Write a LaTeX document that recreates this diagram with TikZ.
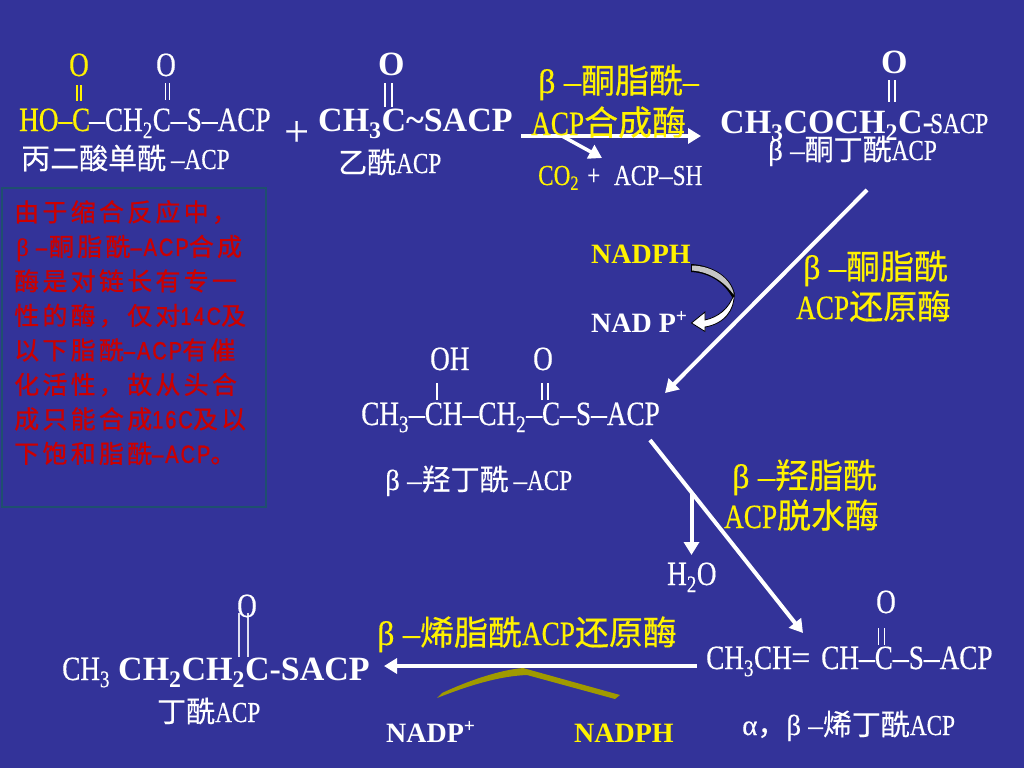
\documentclass[tikz,border=0pt]{standalone}
\usepackage{fontspec}
\usetikzlibrary{arrows.meta}
\setmainfont{Liberation Serif}
\newfontfamily\narrow[FakeStretch=0.8,FakeBold=0.4]{Liberation Serif}
\newfontfamily\wide[FakeBold=0.4]{Liberation Serif}
\newfontfamily\dashfont[FakeStretch=0.93,FakeBold=0.4]{Liberation Serif}
\newfontfamily\cjk[FakeBold=0.4]{Noto Sans CJK SC}
\newfontfamily\redzh[LetterSpace=13,FakeBold=0.8]{Noto Sans CJK SC}
\newfontfamily\redlat[FakeStretch=0.8,LetterSpace=8,FakeBold=1]{Liberation Sans}
\newcommand{\zh}[1]{{\cjk #1}}
\newcommand{\ra}[1]{{\redlat #1}}
\newcommand{\lk}{{\dashfont –}}
\newcommand{\bd}{{\wide β\hspace{.25em}–}}
\definecolor{slide}{HTML}{333399}
\definecolor{olive}{HTML}{A09A00}
\definecolor{boxline}{HTML}{1F4F6F}
\definecolor{redtext}{HTML}{CC0000}
\tikzset{
    chem/.style={anchor=base west, inner sep=0pt, text=white, font=\fontsize{34}{34}\narrow},
    chembold/.style={chem, font=\fontsize{34}{34}\bfseries\rmfamily},
    name label/.style={chem, font=\fontsize{29}{29}\narrow},
    cofactor/.style={chem, font=\fontsize{28}{28}\bfseries\rmfamily},
    enzyme/.style={chem, text=yellow, font=\fontsize{34}{34}\narrow},
    flow/.style={draw=white, line width=4pt, -{Triangle[width=15pt,length=13pt]}},
    bond/.style={white, line width=1.3pt}
}
\begin{document}
\begin{tikzpicture}[x=1pt, y=-1pt]
        \useasboundingbox (0,0) rectangle (1024,768);
        \fill[slide] (0,0) rectangle (1024,768);

        \coordinate (c1s) at (521,136);
        \coordinate (c1e) at (701,136);
        \coordinate (c1b) at (562,136);
        \coordinate (c1t) at (602,158);
        \coordinate (c2s) at (867,190);
        \coordinate (c2e) at (665,393);
        \coordinate (c3s) at (650,440);
        \coordinate (c3e) at (803,633);
        \coordinate (c3b) at (691.5,493);
        \coordinate (c3t) at (691.5,555);
        \coordinate (c4s) at (697,666);
        \coordinate (c4e) at (384,666);
        \draw[flow] (c1s) -- (c1e);
        \draw[flow, line width=3.5pt] (c1b) -- (c1t);
        \draw[flow] (c2s) -- (c2e);
        \draw[flow] (c3s) -- (c3e);
        \draw[flow] (c3b) -- (c3t);
        \draw[flow] (c4s) -- (c4e);

        \foreach \n/\xa/\ya/\yb/\d/\col in {
            a/79/85/101/2/yellow, b/167.5/83/100/2/white, c/388.5/83/107/3.5/white,
            d/892/80/102/3/white, e/545/383/400/3/white, f/881.5/628/645/3/white,
            g/243.5/613/657/4.5/white!85!slide} {
            \coordinate (\n top) at (\xa,\ya);
            \coordinate (\n bot) at (\xa,\yb);
            \draw[bond, draw=\col] ([xshift=-\d pt]\n top) -- ([xshift=-\d pt]\n bot);
            \draw[bond, draw=\col] ([xshift=\d pt]\n top) -- ([xshift=\d pt]\n bot);
        }
        \coordinate (htop) at (437,383);
        \coordinate (hbot) at (437,400);
        \draw[bond] (htop) -- (hbot);

        \node (oa) [chem, text=yellow] at (69,76) {O};
        \node (ob) [chem] at (156,76) {O};
        \node (malho) [chem, text=yellow] at (19,131) {HO–C};
        \node (malchain) [chem] at (89,131) {\lk CH\textsubscript{2}C\lk S\lk ACP};
        \node (malname) [name label] at (21,169) {\zh{丙二酸单酰}\,\lk ACP};
        \node (plus) [chem, font=\fontsize{44}{44}\wide] at (284,146) {+};
        \node (oc) [chembold] at (378,75) {O};
        \node (acetyl) [chembold] at (318,131) {CH\textsubscript{3}C\char`\~SACP};
        \node (acetylname) [name label] at (338,173) {\zh{乙酰}ACP};

        \node (synthase) [enzyme] at (538,93) {\bd\zh{酮脂酰}\lk};
        \node (synthaseb) [enzyme] at (531,135) {ACP\zh{合成酶}};
        \node (co) [name label, text=yellow] at (538,185) {CO\textsubscript{2}};
        \node (acpsh) [name label] at (587,185) {+\hspace{8pt} ACP\lk SH};

        \node (od) [chembold] at (881,73) {O};
        \node (keto) [chembold] at (720,133) {CH\textsubscript{3}COCH\textsubscript{2}C-};
        \node (ketotail) [name label] at (930,133) {SACP};
        \node (ketoname) [name label] at (768,160) {\bd\zh{酮丁酰}ACP};

        \node (reductase) [enzyme] at (803,279) {\bd\zh{酮脂酰}};
        \node (reductaseb) [enzyme] at (796,319) {ACP\zh{还原酶}};
        \node (nadph) [cofactor, text=yellow] at (591,263) {NADPH};
        \node (nadp) [cofactor] at (591,332) {NAD P\textsuperscript{+}};
        \fill[black] (691,264) .. controls (713,265) and (733,278) .. (735,296) -- (733,299) .. controls (726,285) and (712,273) .. (691,272) -- cycle;
        \fill[gray!45] (692,265.5) .. controls (713,266) and (731,278) .. (734,295) .. controls (726,284) and (712,272) .. (692,270.5) -- cycle;
        \draw[black, fill=white, line width=0.8pt] (734,294) .. controls (735,310) and (724,324) .. (705,327) -- (705,331.5) -- (691.5,323) -- (705,312) -- (705,320) .. controls (718,317) and (729,309) .. (734,294) -- cycle;

        \node (oh) [chem] at (430,370) {OH};
        \node (oe) [chem] at (533,370) {O};
        \node (hydroxy) [chem] at (361,425) {CH\textsubscript{3}\lk CH\lk CH\textsubscript{2}\lk C\lk S\lk ACP};
        \node (hydroxyname) [name label] at (385,490) {\bd\zh{羟丁酰}\,\lk ACP};

        \node (dehydratase) [enzyme] at (732,488) {\bd\zh{羟脂酰}};
        \node (dehydrataseb) [enzyme] at (724,528) {ACP\zh{脱水酶}};
        \node (water) [chem] at (667,585) {H\textsubscript{2}O};

        \node (of) [chem] at (876,613) {O};
        \node (enoyl) [chem] at (706,669) {CH\textsubscript{3}CH};
        \node (enoyleq) [chem, font=\fontsize{34}{34}\wide] at (791,669) {=};
        \node (enoylb) [chem] at (821,669) {CH\lk C\lk S\lk ACP};
        \node (enoylname) [name label] at (742,735) {{\wide α}\zh{，}\bd\zh{烯丁酰}ACP};

        \node (enreductase) [enzyme] at (377,645) {\bd\zh{烯脂酰}ACP\zh{还原酶}};
        \fill[olive] (437,698) -- (442,693) .. controls (470,680) and (500,670) .. (523,668) -- (620,695) -- (615,699) -- (527,675) .. controls (500,676) and (470,685) .. (437,698) -- cycle;
        \node (nadpb) [cofactor] at (386,742) {NADP\textsuperscript{+}};
        \node (nadphb) [cofactor, text=yellow] at (574,742) {NADPH};

        \node (og) [chem] at (237,617) {O};
        \node (butch) [chem] at (62,680) {CH\textsubscript{3}};
        \node (butyryl) [chembold] at (118,680) {CH\textsubscript{2}CH\textsubscript{2}C-SACP};
        \node (butname) [name label] at (157,722) {\zh{丁酰}ACP};

        \node (notebox) [draw=boxline, line width=1.5pt, minimum width=264pt, minimum height=319pt, anchor=north west, inner sep=0pt] at (1,187) {};
        \node (note) [anchor=north west, inner sep=0pt, align=left, text=redtext, font=\fontsize{25}{34.5}\redzh] at (14,200) {
            由于缩合反应中，\\
            \hspace{2pt}{\wide β}\hspace{7pt}\ra{–}\hspace{2pt}酮脂酰\ra{–ACP}合成\\
            酶是对链长有专一\\
            性的酶，仅对\ra{14C}及\\
            以下脂酰\ra{–ACP}有催\\
            化活性，故从头合\\
            成只能合成\ra{16C}及以\\
            下饱和脂酰\ra{–ACP}。};
    \end{tikzpicture}
\end{document}
